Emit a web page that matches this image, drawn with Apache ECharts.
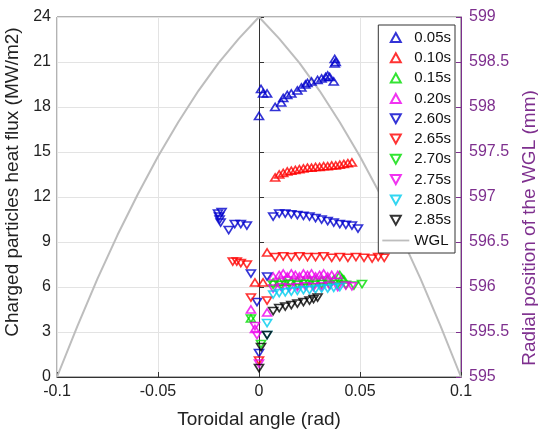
<!DOCTYPE html>
<html>
<head>
<meta charset="utf-8">
<script src="https://cdn.jsdelivr.net/npm/echarts@6/dist/echarts.min.js"></script>
<style>
  html, body { margin: 0; padding: 0; background: #fff; }
  #chart { width: 538px; height: 433px; }
</style>
</head>
<body>
<div id="chart"></div>
<script>
// values (angle in rad, heat flux in MW/m2)
const t005x = [0.0, 0.001, 0.002, 0.004, 0.008, 0.011, 0.012, 0.014, 0.016, 0.019, 0.021, 0.023, 0.024, 0.026, 0.029, 0.031, 0.033, 0.034, 0.035, 0.037, 0.0375, 0.0375, 0.038];
const t005y = [17.4, 19.2, 18.9, 18.9, 18.0, 18.3, 18.6, 18.8, 18.9, 19.1, 19.3, 19.5, 19.6, 19.7, 19.8, 19.9, 20.0, 20.1, 20.0, 19.7, 21.2, 20.9, 21.0];

const t010x = [-0.002, 0.002, 0.004, 0.008, 0.010, 0.012, 0.014, 0.016, 0.018, 0.020, 0.022, 0.024, 0.026, 0.028, 0.030, 0.032, 0.034, 0.036, 0.038, 0.040, 0.042, 0.044, 0.046];
const t010y = [6.3, 6.3, 8.3, 13.3, 13.5, 13.6, 13.7, 13.75, 13.8, 13.85, 13.9, 13.95, 13.95, 14.0, 14.0, 14.05, 14.05, 14.1, 14.1, 14.15, 14.2, 14.25, 14.3];

const t015x = [-0.004, 0.007, 0.010, 0.013, 0.016, 0.019, 0.022, 0.025, 0.028, 0.031, 0.034, 0.037, 0.040, 0.041, 0.042];
const t015y = [3.9, 6.3, 6.35, 6.35, 6.4, 6.4, 6.4, 6.45, 6.45, 6.45, 6.5, 6.5, 6.8, 6.6, 6.5];

const t020x = [-0.004, 0.004, -0.002, 0.007, 0.010, 0.012, 0.014, 0.016, 0.018, 0.020, 0.022, 0.024, 0.026, 0.028, 0.030, 0.032, 0.034, 0.036, 0.039];
const t020y = [4.5, 4.3, 3.2, 6.7, 6.8, 6.9, 6.7, 6.9, 6.8, 6.7, 6.9, 6.8, 6.9, 6.7, 6.8, 6.9, 6.7, 6.8, 6.8];

const t260x = [-0.0203, -0.0198, -0.0195, -0.019, -0.0185, -0.015, -0.012, -0.009, -0.006, -0.004, 0.004, -0.001, 0.0, 0.007, 0.010, 0.013, 0.016, 0.019, 0.022, 0.025, 0.028, 0.031, 0.034, 0.037, 0.040, 0.043, 0.046, 0.049];
const t260y = [10.9, 10.7, 10.5, 10.3, 11.0, 9.8, 10.2, 10.2, 10.1, 6.9, 6.7, 5.0, 1.6, 10.7, 10.9, 10.9, 10.85, 10.8, 10.75, 10.7, 10.6, 10.5, 10.4, 10.3, 10.2, 10.15, 10.1, 9.9];

const t265x = [-0.013, -0.011, -0.009, -0.006, -0.004, 0.004, 0.0, 0.008, 0.012, 0.016, 0.020, 0.024, 0.028, 0.032, 0.036, 0.040, 0.044, 0.048, 0.052, 0.056, 0.059, 0.062];
const t265y = [7.7, 7.7, 7.6, 7.5, 5.3, 5.1, 1.1, 8.0, 8.05, 8.0, 8.05, 8.0, 8.0, 8.05, 7.95, 8.0, 7.95, 8.0, 7.95, 7.9, 8.0, 7.95];

const t270x = [-0.004, 0.001, 0.007, 0.011, 0.015, 0.019, 0.023, 0.027, 0.031, 0.035, 0.039, 0.043, 0.047, 0.051];
const t270y = [3.9, 2.2, 6.15, 6.15, 6.2, 6.15, 6.2, 6.15, 6.2, 6.15, 6.2, 6.15, 6.1, 6.2];

const t275x = [-0.002, -0.001, 0.0, 0.007, 0.011, 0.015, 0.019, 0.023, 0.027, 0.031, 0.035, 0.039, 0.043, 0.046];
const t275y = [3.4, 2.8, 0.9, 5.9, 6.0, 5.95, 6.0, 6.05, 6.0, 6.05, 6.1, 6.0, 6.1, 6.05];

const t280x = [0.004, 0.004, 0.007, 0.010, 0.013, 0.016, 0.019, 0.022, 0.025, 0.028, 0.031, 0.034, 0.037, 0.040];
const t280y = [3.6, 2.8, 5.5, 5.6, 5.65, 5.7, 5.75, 5.8, 5.8, 5.85, 5.9, 5.9, 5.95, 6.0];

const t285x = [0.004, 0.001, 0.0, 0.007, 0.010, 0.013, 0.016, 0.019, 0.022, 0.025, 0.027, 0.029];
const t285y = [2.8, 2.0, 0.6, 4.4, 4.6, 4.7, 4.8, 4.9, 5.0, 5.1, 5.2, 5.3];

// WGL radial position (mm) against toroidal angle
const wglAngle = [-0.1, -0.09, -0.08, -0.07, -0.06, -0.05, -0.04, -0.03, -0.02, -0.01, 0, 0.01, 0.02, 0.03, 0.04, 0.05, 0.06, 0.07, 0.08, 0.09, 0.1];
const wglRadial = [595.0, 595.56, 596.09, 596.58, 597.03, 597.45, 597.83, 598.18, 598.49, 598.76, 599.0, 598.76, 598.49, 598.18, 597.83, 597.45, 597.03, 596.58, 596.09, 595.56, 595.0];

const fluxTicks = [0, 24, 3];
const radialTicks = [595, 599, 0.5];
const angleTicks = [-0.1, 0.1, 0.05];

const font = 'Liberation Sans, Arial, sans-serif';
const purple = '#7E2F8E';
const wglGray = '#BDBDBD';
const triUp = 'path://M5,0 L10,9 L0,9 Z';
const triDown = 'path://M0,0 L10,0 L5,9 Z';

const zip = (xs, ys) => xs.map((x, i) => [x, ys[i]]);

const markerSeries = [
    ['0.05s', '#0000CC', false, t005x, t005y],
    ['0.10s', '#FF0000', false, t010x, t010y],
    ['0.15s', '#00DD00', false, t015x, t015y],
    ['0.20s', '#EE00EE', false, t020x, t020y],
    ['2.60s', '#0000CC', true, t260x, t260y],
    ['2.65s', '#FF0000', true, t265x, t265y],
    ['2.70s', '#00DD00', true, t270x, t270y],
    ['2.75s', '#EE00EE', true, t275x, t275y],
    ['2.80s', '#00CCEE', true, t280x, t280y],
    ['2.85s', '#000000', true, t285x, t285y]
].map(([name, color, down, xs, ys]) => ({
    name: name,
    type: 'scatter',
    symbol: down ? triDown : triUp,
    symbolSize: [9, 8],
    symbolKeepAspect: true,
    itemStyle: { color: 'rgba(255,255,255,0)', borderColor: color, borderWidth: 1.6 },
    data: zip(xs, ys),
    z: 3
}));

const chart = echarts.init(document.getElementById('chart'));
chart.setOption({
    animation: false,
    backgroundColor: '#fff',
    grid: {
        left: 57, right: 77, top: 17, bottom: 56,
        outerBoundsMode: 'none',
        show: true, borderColor: '#666', borderWidth: 1
    },
    legend: {
        orient: 'vertical',
        right: 83,
        top: 25,
        backgroundColor: '#fff',
        borderColor: '#333',
        borderWidth: 1,
        padding: [5, 4, 5, 4],
        itemWidth: 27,
        itemHeight: 9,
        itemGap: 5.3,
        symbolKeepAspect: true,
        textStyle: { fontSize: 15, fontFamily: font, color: '#111' },
        data: markerSeries.map(s => s.name).concat([{
            name: 'WGL',
            icon: 'path://M0,0 L30,0 L30,2 L0,2 Z',
            itemStyle: { color: wglGray, borderWidth: 0 }
        }])
    },
    xAxis: {
        type: 'value',
        min: angleTicks[0], max: angleTicks[1], interval: angleTicks[2],
        name: 'Toroidal angle (rad)',
        nameLocation: 'middle',
        nameGap: 33,
        nameTextStyle: { fontSize: 19, fontFamily: font, color: '#222' },
        axisLine: { lineStyle: { color: '#333' } },
        axisTick: { inside: true, length: 5, lineStyle: { color: '#333' } },
        axisLabel: { fontSize: 16, fontFamily: font, color: '#222', margin: 7 },
        splitLine: { show: true, lineStyle: { color: '#E3E3E3' } }
    },
    yAxis: [{
        type: 'value',
        min: fluxTicks[0], max: fluxTicks[1], interval: fluxTicks[2],
        name: 'Charged particles heat flux (MW/m2)',
        nameLocation: 'middle',
        nameGap: 31,
        nameTextStyle: { fontSize: 19, fontFamily: font, color: '#222', padding: [0, 0, 0, 30] },
        axisLine: { show: true, lineStyle: { color: '#333' } },
        axisTick: { show: true, inside: true, length: 5, lineStyle: { color: '#333' } },
        axisLabel: { fontSize: 16, fontFamily: font, color: '#222', margin: 6 },
        splitLine: { show: true, lineStyle: { color: '#E3E3E3' } }
    }, {
        type: 'value',
        position: 'right',
        min: radialTicks[0], max: radialTicks[1], interval: radialTicks[2],
        name: 'Radial position of the WGL (mm)',
        nameLocation: 'middle',
        nameGap: 59,
        nameRotate: 90,
        nameTextStyle: { fontSize: 19, fontFamily: font, color: purple, padding: [0, 62, 0, 0] },
        axisLine: { show: true, lineStyle: { color: purple } },
        axisTick: { show: true, inside: true, length: 5, lineStyle: { color: purple } },
        axisLabel: { fontSize: 16, fontFamily: font, color: purple, margin: 8 },
        splitLine: { show: false }
    }],
    series: markerSeries.concat([{
        name: 'WGL',
        type: 'line',
        yAxisIndex: 1,
        symbol: 'none',
        lineStyle: { color: wglGray, width: 2 },
        itemStyle: { color: wglGray },
        data: zip(wglAngle, wglRadial),
        z: 2
    }])
});
</script>
</body>
</html>
